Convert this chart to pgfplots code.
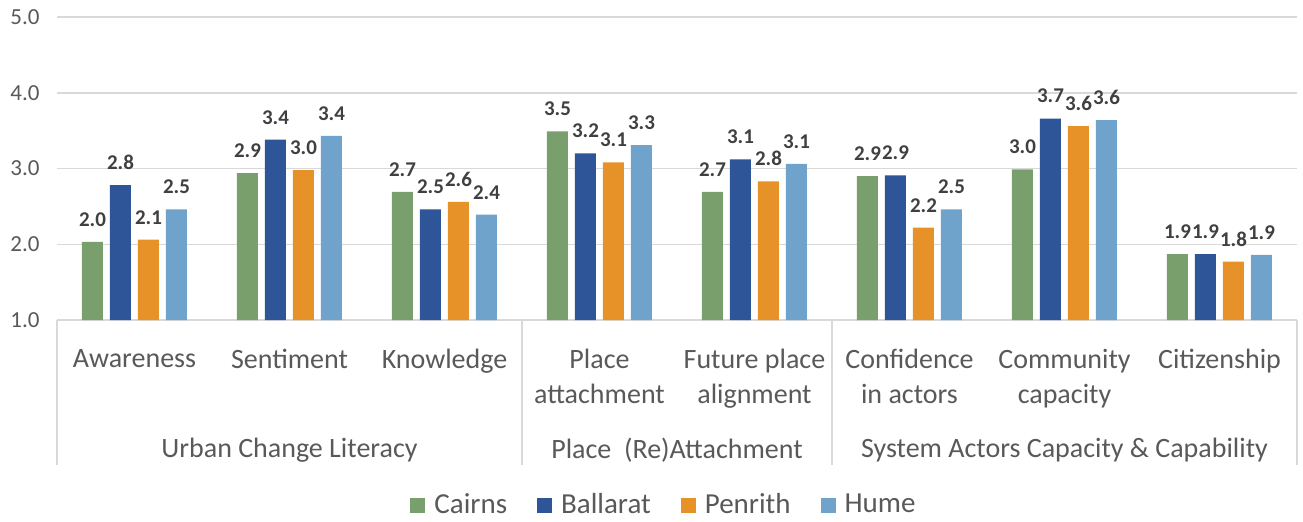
\documentclass[border=0pt]{standalone}
\usepackage{pgfplots}
\pgfplotsset{compat=1.18}
\usepackage{fontspec}
\setmainfont{Carlito}
\definecolor{cgreen}{HTML}{79A06C}
\definecolor{cblue}{HTML}{2E5597}
\definecolor{corange}{HTML}{E69228}
\definecolor{clight}{HTML}{6FA3CC}
\definecolor{txtgray}{HTML}{595959}
\definecolor{lblgray}{HTML}{404040}
\definecolor{gridgray}{HTML}{D9D9D9}
\begin{document}
\begin{tikzpicture}
\useasboundingbox (0,0) rectangle (651.5pt,260.5pt);
\begin{axis}[
  at={(28.5pt,100.5pt)}, anchor=south west,
  scale only axis, width=620pt, height=151.5pt,
  ymin=1, ymax=5, ytick={1,2,3,4,5},
  xmin=-0.5, xmax=7.5, xtick={0,...,7},
  xticklabels={Awareness,Sentiment,Knowledge,Place\\attachment,Future place\\alignment,Confidence\\in actors,Community\\capacity,Citizenship},
  axis line style={draw=none},
  major tick length=0pt,
  ymajorgrids, grid style={gridgray, line width=0.75pt},
  /pgf/number format/assume math mode=true,
  yticklabel={\pgfmathprintnumber[fixed,fixed zerofill,precision=1]{\tick}},
  yticklabel style={inner sep=0pt, xshift=-8.5pt, text=txtgray, font=\fontsize{11.5}{13}\selectfont},
  xticklabel style={anchor=north, inner sep=0pt, yshift=-14.5pt, align=center, text=txtgray, font=\fontsize{14}{17.5}\selectfont},
  ybar=3.5pt, bar width=10.5pt,
  nodes near coords,
  nodes near coords style={/pgf/number format/fixed, /pgf/number format/fixed zerofill, /pgf/number format/precision=1, /pgf/number format/assume math mode=true,
    anchor=south, inner sep=0pt, yshift=7.5pt, text=lblgray, font=\fontsize{10.5}{12}\selectfont\bfseries},
  legend columns=4,
  legend style={at={(0.5,-0.6106)}, anchor=center, xshift=-6pt, draw=none, fill=none, font=\fontsize{14.5}{17}\selectfont, text=txtgray,
    /tikz/every even column/.append style={column sep=13pt}, /tikz/every odd column/.append style={column sep=2.5pt}, inner sep=0pt},
  legend image code/.code={\fill[#1,draw=none] (0pt,-3.75pt) rectangle (7.5pt,3.75pt);},
  clip=false,
]
\addplot[fill=cgreen, draw=none] coordinates {(0,2.03) (1,2.94) (2,2.69) (3,3.49) (4,2.69) (5,2.90) (6,2.99) (7,1.87)};
\addplot[fill=cblue, draw=none] coordinates {(0,2.78) (1,3.38) (2,2.46) (3,3.20) (4,3.12) (5,2.91) (6,3.66) (7,1.87)};
\addplot[fill=corange, draw=none] coordinates {(0,2.06) (1,2.98) (2,2.56) (3,3.08) (4,2.83) (5,2.22) (6,3.56) (7,1.77)};
\addplot[fill=clight, draw=none] coordinates {(0,2.46) (1,3.43) (2,2.39) (3,3.31) (4,3.06) (5,2.46) (6,3.64) (7,1.86)};
\legend{Cairns,Ballarat,Penrith,Hume}
\draw[gridgray, line width=0.75pt] (axis cs:-0.5,1) -- ([yshift=-72.5pt]axis cs:-0.5,1);
\draw[gridgray, line width=0.75pt] (axis cs:2.5,1) -- ([yshift=-72.5pt]axis cs:2.5,1);
\draw[gridgray, line width=0.75pt] (axis cs:4.5,1) -- ([yshift=-72.5pt]axis cs:4.5,1);
\draw[gridgray, line width=0.75pt] (axis cs:7.5,1) -- ([yshift=-72.5pt]axis cs:7.5,1);
\node[text=txtgray, font=\fontsize{14}{17}\selectfont] at ([yshift=-65pt]axis cs:1,1) {Urban Change Literacy};
\node[text=txtgray, font=\fontsize{14}{17}\selectfont] at ([yshift=-65pt]axis cs:3.5,1) {Place\ \ (Re)Attachment};
\node[text=txtgray, font=\fontsize{14}{17}\selectfont] at ([yshift=-65pt]axis cs:6,1) {System Actors Capacity \& Capability};
\end{axis}
\end{tikzpicture}
\end{document}
